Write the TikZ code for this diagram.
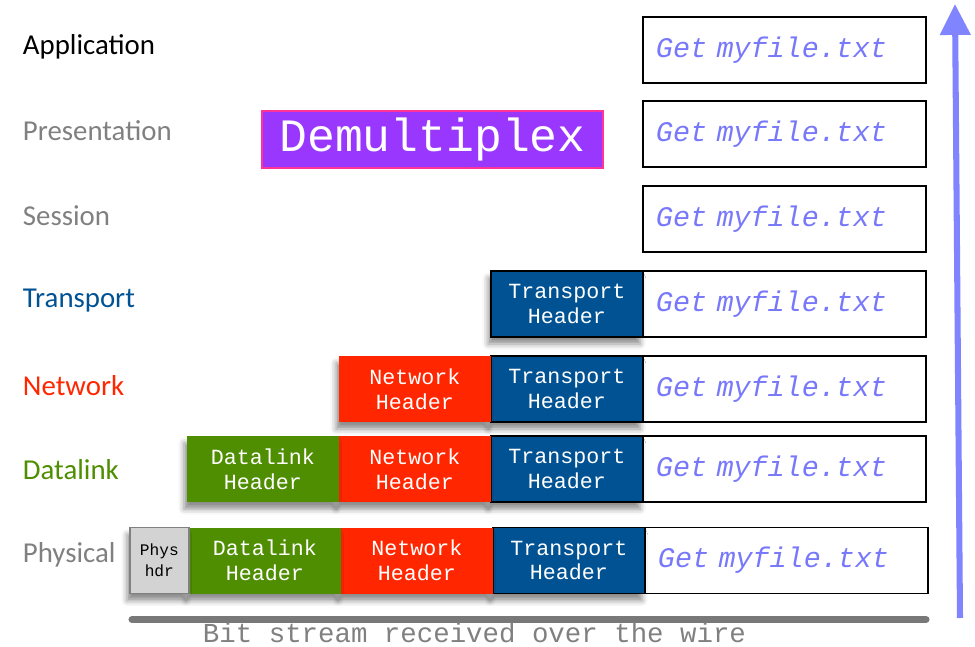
\documentclass[tikz,border=0pt]{standalone}
\usepackage{fontspec}
\newfontfamily\layerfont{Carlito}
\newfontfamily\codefont{Liberation Mono}
\usetikzlibrary{positioning,arrows.meta,shadows.blur}
\definecolor{paytext}{RGB}{120,120,250}
\definecolor{transblue}{RGB}{0,82,147}
\definecolor{netred}{RGB}{255,38,0}
\definecolor{linkgreen}{RGB}{78,142,0}
\definecolor{layergray}{RGB}{128,128,128}
\definecolor{physgray}{RGB}{211,211,211}
\definecolor{demuxpurple}{RGB}{153,55,255}
\definecolor{demuxpink}{RGB}{255,51,153}
\definecolor{upblue}{RGB}{128,132,255}
\definecolor{wiregray}{RGB}{120,120,120}

\begin{document}
\begin{tikzpicture}[x=0.025cm, y=-0.025cm,
  layer/.style={anchor=west, font=\layerfont\fontsize{20.5}{24}\selectfont},
  payload box/.style={draw=black, line width=1.1pt, fill=white, minimum width=7.075cm, minimum height=1.65cm, inner sep=0pt, outer sep=0pt, text width=6.425cm, align=left, text=paytext, font=\codefont\itshape\fontsize{20.2}{23}\selectfont},
  hdr/.style={minimum width=3.8cm, minimum height=1.65cm, inner sep=0pt, outer sep=0pt, align=center, text=white, font=\codefont\fontsize{15.4}{17.5}\selectfont, blur shadow={shadow xshift=-2pt, shadow yshift=-5pt, shadow blur radius=4pt, shadow opacity=45}},
  transport hdr/.style={hdr, fill=transblue, draw=black, line width=1.1pt},
  network hdr/.style={hdr, fill=netred},
  datalink hdr/.style={hdr, fill=linkgreen},
  phys hdr/.style={hdr, fill=physgray, draw=layergray, line width=1.1pt, minimum width=1.475cm, text=black, font=\codefont\fontsize{11.5}{15}\selectfont}]

  \useasboundingbox (0,0) rectangle (975,646);

  % layer names
  \node[layer, text=black] (lapp) at (18,47) {Application};
  \node[layer, text=layergray] (lpres) at (18,131) {Presentation};
  \node[layer, text=layergray] (lsess) at (18,216) {Session};
  \node[layer, text=transblue] (ltrans) at (18,301) {Transport};
  \node[layer, text=netred] (lnet) at (18,386) {Network};
  \node[layer, text=linkgreen] (llink) at (18,470) {Datalink};
  \node[layer, text=layergray] (lphys) at (18,555) {Physical};

  % data handed up at each layer
  \node[payload box] (p1) at (784.5,50) {Get myfile.txt};
  \node[payload box] (p2) at (784.5,134) {Get myfile.txt};
  \node[payload box] (p3) at (784.5,219) {Get myfile.txt};
  \node[payload box] (p4) at (784.5,304) {Get myfile.txt};
  \node[payload box] (p5) at (784.5,389) {Get myfile.txt};
  \node[payload box] (p6) at (784.5,469) {Get myfile.txt};
  \node[payload box] (p7) at (786.5,560.5) {Get myfile.txt};

  % headers still on the packet
  \node[transport hdr] (t4) [left=0pt of p4] {Transport\\Header};

  \node[transport hdr] (t5) [left=0pt of p5] {Transport\\Header};
  \node[network hdr] (n5) [left=0pt of t5] {Network\\Header};

  \node[transport hdr] (t6) [left=0pt of p6] {Transport\\Header};
  \node[network hdr] (n6) [left=0pt of t6] {Network\\Header};
  \node[datalink hdr] (d6) [left=0pt of n6] {Datalink\\Header};

  \node[transport hdr] (t7) [left=0pt of p7] {Transport\\Header};
  \node[network hdr] (n7) [left=0pt of t7] {Network\\Header};
  \node[datalink hdr] (d7) [left=0pt of n7] {Datalink\\Header};
  \node[phys hdr] (ph7) [left=0pt of d7] {Phys\\hdr};

  \node[fill=demuxpurple, draw=demuxpink, line width=1.2pt, minimum width=8.525cm, minimum height=1.425cm, inner sep=0pt, text=white, font=\codefont\fontsize{33}{36}\selectfont] (demux) at (432.5,139.5) {Demultiplex};

  % the wire and the way up
  \coordinate (wireL) at (132,619.5);
  \coordinate (wireR) at (926,619.5);
  \draw[wiregray, line width=5pt, line cap=round] (wireL) -- (wireR);
  \node[inner sep=0pt, text=layergray, font=\codefont\fontsize{19.5}{22}\selectfont] (bits) at (474.5,632.5) {Bit stream received over the wire};

  \coordinate (upbase) at (960,618);
  \coordinate (uptip) at (955,4);
  \draw[-{Triangle[length=22pt, width=21pt]}, upblue, line width=4.3pt] (upbase) -- (uptip);

\end{tikzpicture}
\end{document}
